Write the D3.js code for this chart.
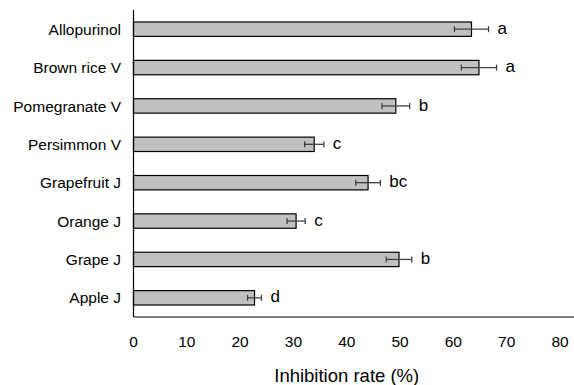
<!DOCTYPE html>
<html>
<head>
<meta charset="utf-8">
<script src="https://cdn.jsdelivr.net/npm/d3@7"></script>
<style>
  html, body { margin: 0; padding: 0; background: #fff; }
  svg { display: block; }
  text { font-family: "Liberation Sans", Arial, sans-serif; fill: #000; }
</style>
</head>
<body>
<svg id="chart" width="574" height="385"></svg>
<script>
const categories = ["Allopurinol", "Brown rice V", "Pomegranate V", "Persimmon V", "Grapefruit J", "Orange J", "Grape J", "Apple J"];
const values = [63.4, 64.8, 49.2, 33.9, 44.0, 30.5, 49.8, 22.7];
const errors = [3.2, 3.3, 2.6, 1.8, 2.3, 1.7, 2.4, 1.3];
const letters = ["a", "a", "b", "c", "bc", "c", "b", "d"];
const xTicks = [0, 10, 20, 30, 40, 50, 60, 70, 80];
const xTitle = "Inhibition rate (%)";

const svg = d3.select("#chart");
const plotLeft = 133.5, plotTop = 10, plotBottom = 317;
const x = d3.scaleLinear().domain([0, 80]).range([plotLeft, plotLeft + 426.5]);
const y = d3.scaleBand().domain(categories).range([plotTop, plotBottom]).paddingInner(0.625).paddingOuter(0.3125);

// bars
svg.selectAll("rect.bar").data(categories).enter().append("rect")
  .attr("class", "bar")
  .attr("x", x(0))
  .attr("y", d => y(d))
  .attr("width", (d, i) => x(values[i]) - x(0))
  .attr("height", y.bandwidth())
  .attr("fill", "#c0c0c0")
  .attr("stroke", "#000")
  .attr("stroke-width", 1.2);

// error bars
const cap = 3;
const eg = svg.append("g").attr("stroke", "#404040").attr("stroke-width", 1.3);
categories.forEach((c, i) => {
  const cy = y(c) + y.bandwidth() / 2;
  const x1 = x(values[i] - errors[i]), x2 = x(values[i] + errors[i]);
  eg.append("line").attr("x1", x1).attr("x2", x2).attr("y1", cy).attr("y2", cy);
  eg.append("line").attr("x1", x1).attr("x2", x1).attr("y1", cy - cap).attr("y2", cy + cap);
  eg.append("line").attr("x1", x2).attr("x2", x2).attr("y1", cy - cap).attr("y2", cy + cap);
});

// letters
svg.selectAll("text.sig").data(categories).enter().append("text")
  .attr("class", "sig")
  .attr("x", (d, i) => x(values[i] + errors[i]) + 9)
  .attr("y", d => y(d) + y.bandwidth() / 2)
  .attr("dy", "0.27em")
  .style("font-size", "17px")
  .text((d, i) => letters[i]);

// category labels
svg.selectAll("text.cat").data(categories).enter().append("text")
  .attr("class", "cat")
  .attr("x", 121)
  .attr("y", d => y(d) + y.bandwidth() / 2)
  .attr("dy", "0.36em")
  .attr("text-anchor", "end")
  .style("font-size", "15.5px")
  .text(d => d);

// axes lines
svg.append("line").attr("x1", plotLeft).attr("x2", plotLeft).attr("y1", plotTop).attr("y2", plotBottom)
  .attr("stroke", "#000").attr("stroke-width", 1.2);
svg.append("line").attr("x1", plotLeft).attr("x2", 574).attr("y1", plotBottom).attr("y2", plotBottom)
  .attr("stroke", "#000").attr("stroke-width", 1.2);

// x tick labels
svg.selectAll("text.tick").data(xTicks).enter().append("text")
  .attr("class", "tick")
  .attr("x", d => x(d))
  .attr("y", 346.5)
  .attr("text-anchor", "middle")
  .style("font-size", "15.5px")
  .text(d => d);

svg.append("text")
  .attr("x", x(40))
  .attr("y", 381.5)
  .attr("text-anchor", "middle")
  .style("font-size", "18.5px")
  .text(xTitle);
</script>
</body>
</html>
